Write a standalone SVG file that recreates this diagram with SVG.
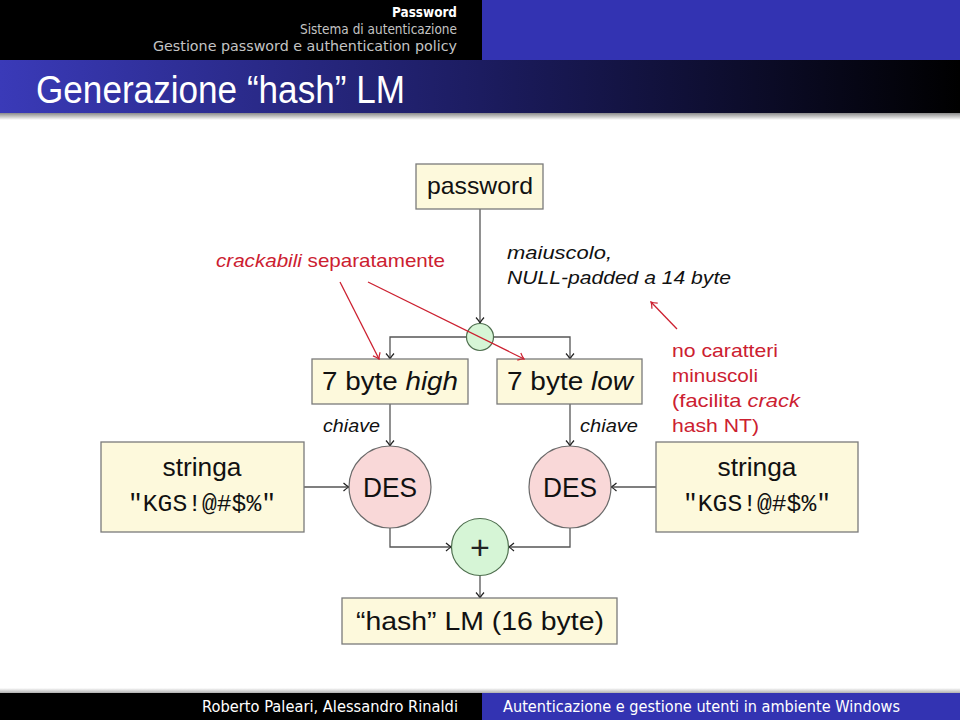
<svg xmlns="http://www.w3.org/2000/svg" width="960" height="720" viewBox="0 0 960 720">
<defs>
<style>
.hd { font-family: "DejaVu Sans", "Liberation Sans", sans-serif; font-size: 14px; }
.t { font-family: "Liberation Sans", Arial, sans-serif; fill: #111; }
.mono { font-family: "Liberation Mono", "Courier New", monospace; fill: #111; }
.red { fill: #cc2030; }
.box { fill: #fdf9dc; stroke: #7a7a7a; stroke-width: 1.3; }
.des { fill: #f9d8d8; stroke: #6a6a6a; stroke-width: 1.2; }
.grn { fill: #d6f5d6; stroke: #4f6f4f; stroke-width: 1.2; }
.conn { fill: none; stroke: #555; stroke-width: 1.3; marker-end: url(#arr); }
.rl { fill: none; stroke: #cc2030; stroke-width: 1.3; marker-end: url(#arrR); }
</style>
<marker id="arr" viewBox="-7 -5 8 10" refX="0" refY="0" markerWidth="8" markerHeight="10" orient="auto" markerUnits="userSpaceOnUse">
<path d="M-5.5,-4 Q-2,-0.8 0,0 Q-2,0.8 -5.5,4" fill="none" stroke="#222" stroke-width="1.2"/>
</marker>
<marker id="arrR" viewBox="-7 -5 8 10" refX="0" refY="0" markerWidth="8" markerHeight="10" orient="auto" markerUnits="userSpaceOnUse">
<path d="M-5.5,-4 Q-2,-0.8 0,0 Q-2,0.8 -5.5,4" fill="none" stroke="#cc2030" stroke-width="1.2"/>
</marker>
<linearGradient id="titleg" x1="0" y1="0" x2="1" y2="0">
<stop offset="0" stop-color="#3a3ab8"/>
<stop offset="0.5" stop-color="#1c1c60"/>
<stop offset="1" stop-color="#000000"/>
</linearGradient>
<linearGradient id="shad" x1="0" y1="0" x2="0" y2="1">
<stop offset="0" stop-color="#8a8a8a"/>
<stop offset="1" stop-color="#ffffff"/>
</linearGradient>
<linearGradient id="shadUp" x1="0" y1="1" x2="0" y2="0">
<stop offset="0" stop-color="#b0b0b0"/>
<stop offset="1" stop-color="#ffffff"/>
</linearGradient>
</defs>

<rect width="960" height="720" fill="#ffffff"/>

<!-- header -->
<g id="header">
<rect x="0" y="0" width="482" height="60" fill="#000"/>
<rect x="482" y="0" width="478" height="60" fill="#3333b2"/>
<text class="hd" x="457" y="17" text-anchor="end" fill="#ffffff" font-weight="bold" textLength="65" lengthAdjust="spacingAndGlyphs">Password</text>
<text class="hd" x="457" y="34" text-anchor="end" fill="#c4c4c4" textLength="157" lengthAdjust="spacingAndGlyphs">Sistema di autenticazione</text>
<text class="hd" x="457" y="51" text-anchor="end" fill="#c4c4c4" textLength="304" lengthAdjust="spacingAndGlyphs">Gestione password e authentication policy</text>
<rect x="0" y="60" width="960" height="53" fill="url(#titleg)"/>
<rect x="0" y="113" width="960" height="7" fill="url(#shad)"/>
<text class="t" x="36" y="103" font-size="38" style="fill:#ffffff" textLength="369" lengthAdjust="spacingAndGlyphs">Generazione “hash” LM</text>
</g>

<!-- connectors -->
<g id="connectors">
<path class="conn" d="M480,209 V323"/>
<path class="conn" d="M466.5,337 H390 V359"/>
<path class="conn" d="M493.5,337 H570 V359"/>
<path class="conn" d="M390,404 V446"/>
<path class="conn" d="M570,404 V446"/>
<path class="conn" d="M304,487 H349"/>
<path class="conn" d="M656,487 H611"/>
<path class="conn" d="M390,528 V547 H451.5"/>
<path class="conn" d="M570,528 V547 H508.5"/>
<path class="conn" d="M480,575.5 V598"/>
</g>

<g id="password">
<rect class="box" x="416" y="164" width="127" height="45"/>
<text class="t" x="480" y="194" font-size="24" text-anchor="middle" textLength="106" lengthAdjust="spacingAndGlyphs">password</text>
</g>

<g id="split">
<circle class="grn" cx="480" cy="337" r="13.5"/>
</g>

<g id="high">
<rect class="box" x="312" y="359" width="156" height="45"/>
<text class="t" x="390" y="390" font-size="25" text-anchor="middle" textLength="136" lengthAdjust="spacingAndGlyphs">7 byte <tspan font-style="italic">high</tspan></text>
</g>

<g id="low">
<rect class="box" x="497" y="359" width="145" height="45"/>
<text class="t" x="570" y="390" font-size="25" text-anchor="middle" textLength="126" lengthAdjust="spacingAndGlyphs">7 byte <tspan font-style="italic">low</tspan></text>
</g>

<g id="labels">
<text class="t" x="323" y="432" font-size="19" font-style="italic" textLength="57" lengthAdjust="spacingAndGlyphs">chiave</text>
<text class="t" x="580" y="432" font-size="19" font-style="italic" textLength="58" lengthAdjust="spacingAndGlyphs">chiave</text>
<text class="t" x="507" y="259" font-size="19" font-style="italic" textLength="105" lengthAdjust="spacingAndGlyphs">maiuscolo,</text>
<text class="t" x="507" y="284" font-size="19" font-style="italic" textLength="224" lengthAdjust="spacingAndGlyphs">NULL-padded a 14 byte</text>
</g>

<g id="des-left">
<circle class="des" cx="390" cy="487" r="41"/>
<text class="t" x="390" y="497" font-size="27" text-anchor="middle" textLength="54" lengthAdjust="spacingAndGlyphs">DES</text>
</g>

<g id="des-right">
<circle class="des" cx="570" cy="487" r="41"/>
<text class="t" x="570" y="497" font-size="27" text-anchor="middle" textLength="54" lengthAdjust="spacingAndGlyphs">DES</text>
</g>

<g id="stringa-left">
<rect class="box" x="101" y="442" width="203" height="90"/>
<text class="t" x="202" y="476" font-size="25" text-anchor="middle" textLength="79" lengthAdjust="spacingAndGlyphs">stringa</text>
<text class="mono" x="202" y="511" font-size="24.5" text-anchor="middle" textLength="148" lengthAdjust="spacingAndGlyphs">"KGS!@#$%"</text>
</g>

<g id="stringa-right">
<rect class="box" x="656" y="442" width="202" height="90"/>
<text class="t" x="757" y="476" font-size="25" text-anchor="middle" textLength="79" lengthAdjust="spacingAndGlyphs">stringa</text>
<text class="mono" x="757" y="511" font-size="24.5" text-anchor="middle" textLength="148" lengthAdjust="spacingAndGlyphs">"KGS!@#$%"</text>
</g>

<g id="plus">
<circle class="grn" cx="480" cy="547" r="28.5"/>
<text class="t" x="480" y="559" font-size="34" text-anchor="middle" style="fill:#222">+</text>
</g>

<g id="hash">
<rect class="box" x="342" y="598" width="275" height="46"/>
<text class="t" x="480" y="630" font-size="25" text-anchor="middle" textLength="248" lengthAdjust="spacingAndGlyphs">“hash” LM (16 byte)</text>
</g>

<!-- red annotations -->
<g id="annotations">
<text class="t red" x="216" y="267" font-size="19" style="fill:#cc2030" textLength="229" lengthAdjust="spacingAndGlyphs"><tspan font-style="italic">crackabili</tspan> separatamente</text>
<path class="rl" d="M340,282 L379,359"/>
<path class="rl" d="M368,282 L524,359"/>
<path class="rl" d="M677,329 L651,302"/>
<text class="t red" x="672" y="357" font-size="19" style="fill:#cc2030" textLength="106" lengthAdjust="spacingAndGlyphs">no caratteri</text>
<text class="t red" x="672" y="382" font-size="19" style="fill:#cc2030" textLength="86" lengthAdjust="spacingAndGlyphs">minuscoli</text>
<text class="t red" x="672" y="407" font-size="19" style="fill:#cc2030" textLength="128" lengthAdjust="spacingAndGlyphs">(facilita <tspan font-style="italic">crack</tspan></text>
<text class="t red" x="672" y="432" font-size="19" style="fill:#cc2030" textLength="87" lengthAdjust="spacingAndGlyphs">hash NT)</text>
</g>

<!-- footer -->
<g id="footer">
<rect x="0" y="688" width="960" height="5" fill="url(#shadUp)"/>
<rect x="0" y="693" width="482" height="27" fill="#000"/>
<rect x="482" y="693" width="478" height="27" fill="#3333b2"/>
<text class="hd" x="458" y="712" text-anchor="end" fill="#ffffff" font-size="15" style="font-size:15px" textLength="256" lengthAdjust="spacingAndGlyphs">Roberto Paleari, Alessandro Rinaldi</text>
<text class="hd" x="503" y="712" fill="#ffffff" style="font-size:15px" textLength="397" lengthAdjust="spacingAndGlyphs">Autenticazione e gestione utenti in ambiente Windows</text>
</g>
</svg>
